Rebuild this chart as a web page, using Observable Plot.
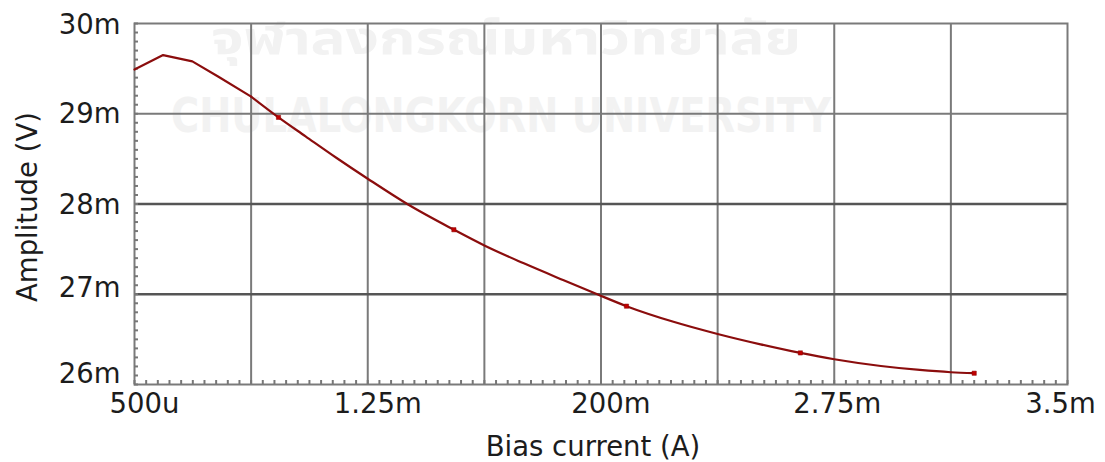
<!DOCTYPE html>
<html>
<head>
<meta charset="utf-8">
<script src="https://cdn.jsdelivr.net/npm/d3@7"></script>
<script src="https://cdn.jsdelivr.net/npm/@observablehq/plot@0.6"></script>
<style>
  body { margin: 0; background: #fff; }
  #chart svg { display: block; }
</style>
</head>
<body>
<div id="chart"></div>
<script>
// Simulated oscillation amplitude versus bias current (sweep values in mA and mV)
const biasCurrent = [0.500, 0.592, 0.686, 0.770, 0.875, 0.963, 1.050, 1.150, 1.250, 1.377,
                     1.527, 1.625, 1.750, 1.880, 1.988, 2.082, 2.233, 2.375, 2.513, 2.641,
                     2.750, 2.900, 3.025, 3.125, 3.200];
const amplitude   = [29.49, 29.65, 29.58, 29.41, 29.19, 28.96, 28.75, 28.51, 28.28, 28.00,
                     27.715, 27.54, 27.345, 27.155, 27.00, 26.868, 26.695, 26.56, 26.445, 26.35,
                     26.28, 26.205, 26.161, 26.136, 26.125];

// Data-point markers on the trace
const markerCurrent   = [0.963, 1.527, 2.082, 2.641, 3.200];
const markerAmplitude = [28.96, 27.715, 26.868, 26.35, 26.125];

// Axis ticks and their labels (with a small per-label nudge)
const xTicks      = [0.5, 1.25, 2.0, 2.75, 3.5];
const xTickLabels = ["500u", "1.25m", "200m", "2.75m", "3.5m"];
const xTickNudge  = [10, 10, 10, 3, -7];
const xGrid       = [0.875, 1.25, 1.625, 2.0, 2.375, 2.75, 3.125];
const yTicks      = [26, 27, 28, 29, 30];
const yTickLabels = ["26m", "27m", "28m", "29m", "30m"];
const yTickNudge  = [-10, -6, 1, 0, 2];
const yGridLight  = [29];
const yGridDark   = [27, 28];

// Minor tick positions along the frame
const xMinor = d3.range(0, 81).map(i => 0.5 + i * 0.0375);
const yMinor = d3.range(0, 41).map(i => 26 + i * 0.1);

// The first sweep steps are coarse (straight segments); the rest is drawn smooth
const coarseEnd = 4;
const traceCoarse = biasCurrent.slice(0, coarseEnd + 1).map((x, i) => ({x, y: amplitude[i]}));
const traceFine = biasCurrent.slice(coarseEnd).map((x, i) => ({x, y: amplitude[i + coarseEnd]}));
const markers = markerCurrent.map((x, i) => ({x, y: markerAmplitude[i]}));

const watermarkThai = "จุฬาลงกรณ์มหาวิทยาลัย";
const watermarkEng = "CHULALONGKORN UNIVERSITY";

const xLabelAxes = xTicks.map((t, i) => Plot.axisX([t], {
  tickSize: 0, tickPadding: 9, label: null, dx: xTickNudge[i],
  tickFormat: () => xTickLabels[i]
}));
const yLabelAxes = yTicks.map((t, i) => Plot.axisY([t], {
  tickSize: 0, tickPadding: 14, label: null, dy: yTickNudge[i],
  tickFormat: () => yTickLabels[i]
}));

const chart = Plot.plot({
  width: 1105,
  height: 462,
  marginLeft: 134,
  marginRight: 38,
  marginTop: 23,
  marginBottom: 78,
  style: {fontFamily: "DejaVu Sans", fontSize: "27.5px", color: "#1c1c1c", background: "#fff"},
  x: {domain: [0.5, 3.5]},
  y: {domain: [26, 30]},
  marks: [
    // faint watermark behind the plot
    Plot.text([watermarkThai], {text: d => d, frameAnchor: "top", textAnchor: "middle", dx: -95, dy: -2,
      fontSize: 46, fontWeight: "bold", fill: "#f2f2f2", className: "wm-thai",
      fontFamily: "Noto Sans Thai, DejaVu Sans, sans-serif"}),
    Plot.text([watermarkEng], {text: d => d, frameAnchor: "top", textAnchor: "middle", dx: -100, dy: 74,
      fontSize: 48, fontWeight: "bold", fill: "#f2f2f2", className: "wm-eng",
      fontFamily: "DejaVu Sans Condensed, Liberation Sans Narrow, sans-serif"}),

    // grid
    Plot.gridX(xGrid, {stroke: "#7a7a7a", strokeOpacity: 1, strokeWidth: 2}),
    Plot.gridY(yGridLight, {stroke: "#7a7a7a", strokeOpacity: 1, strokeWidth: 2}),
    Plot.gridY(yGridDark, {stroke: "#555", strokeOpacity: 1, strokeWidth: 2.5}),
    Plot.frame({stroke: "#7a7a7a", strokeWidth: 2}),

    // minor inward ticks
    Plot.axisX(xMinor, {tickSize: -4, tickFormat: () => "", label: null, stroke: "#777", strokeWidth: 2}),
    Plot.axisY(yMinor, {tickSize: -4, tickFormat: () => "", label: null, stroke: "#777", strokeWidth: 2}),

    // labelled axes
    ...xLabelAxes,
    ...yLabelAxes,

    // axis titles
    Plot.text(["Bias current (A)"], {text: d => d, frameAnchor: "bottom", textAnchor: "middle",
      dx: -8, dy: 71, fontSize: 27.5, fill: "#1c1c1c"}),
    Plot.text(["Amplitude (V)"], {text: d => d, frameAnchor: "left", textAnchor: "middle",
      lineAnchor: "middle", dx: -106, dy: 3, rotate: -90, fontSize: 27.5, fill: "#1c1c1c"}),

    // trace
    Plot.line(traceCoarse, {x: "x", y: "y", stroke: "#8b0d0d", strokeWidth: 2.2}),
    Plot.line(traceFine, {x: "x", y: "y", stroke: "#8b0d0d", strokeWidth: 2.2, curve: "monotone-x"}),
    Plot.dot(markers, {x: "x", y: "y", symbol: "square", r: 2.4, fill: "#c00000", stroke: "#8b0000", strokeWidth: 0.5})
  ]
});

// stretch the watermark lines to their full width
d3.select(chart).selectAll(".wm-eng text").attr("textLength", 660).attr("lengthAdjust", "spacingAndGlyphs");
d3.select(chart).selectAll(".wm-thai text").attr("textLength", 590).attr("lengthAdjust", "spacingAndGlyphs");

document.getElementById("chart").append(chart);
</script>
</body>
</html>
